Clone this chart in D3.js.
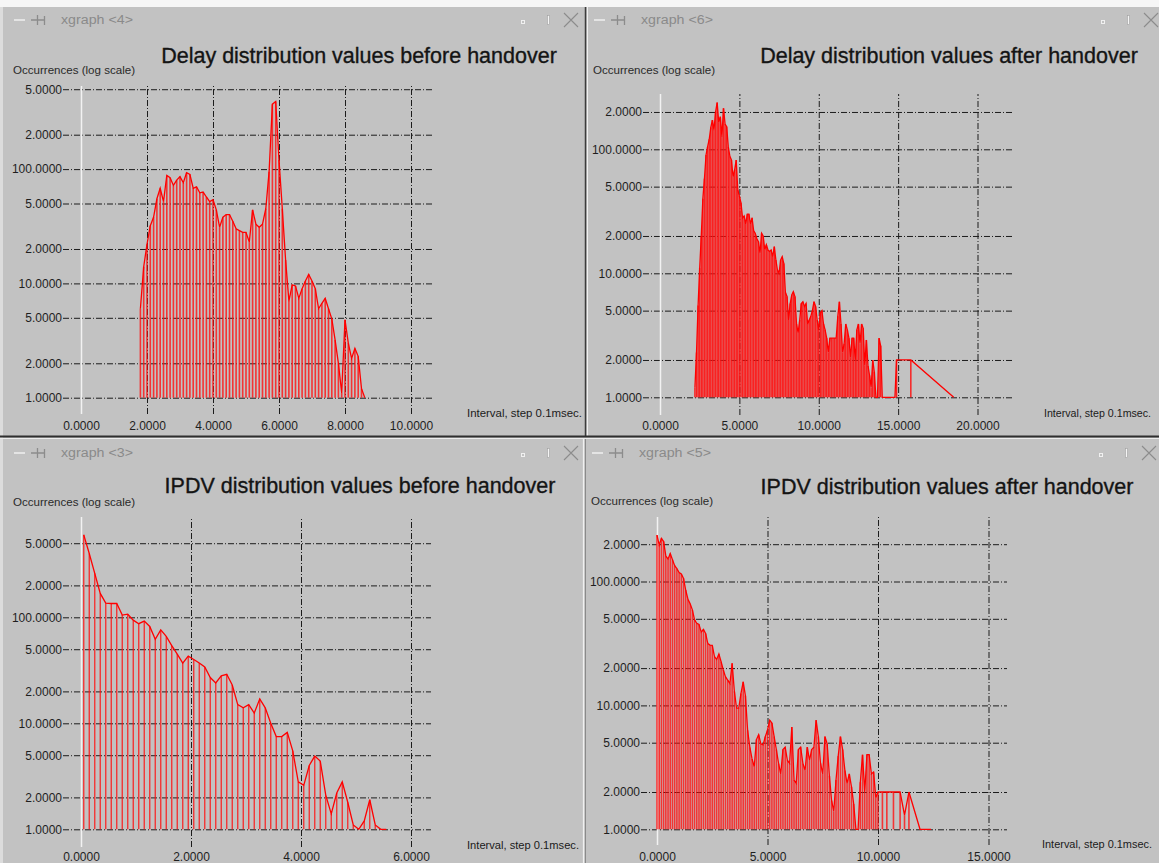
<!DOCTYPE html>
<html>
<head>
<meta charset="utf-8">
<script src="https://cdn.jsdelivr.net/npm/d3@7"></script>
<style>
  html, body { margin: 0; padding: 0; background: #c2c2c2; }
  svg { display: block; }
  text { font-family: "Liberation Sans", Arial, Helvetica, sans-serif; }
</style>
</head>
<body>
<svg id="chart" width="1159" height="863"></svg>
<script>
// ---- Histogram data: [interval, occurrences] ----
const delayBefore = [
  [1.8,6],[1.9,14],[2.0,22],[2.1,32],[2.2,38],[2.3,55],[2.4,68],[2.5,52],[2.6,88],[2.7,84],
  [2.8,72],[2.9,80],[3.0,86],[3.1,76],[3.2,93],[3.3,90],[3.4,68],[3.5,70],[3.6,62],[3.7,63],
  [3.8,57],[3.9,52],[4.0,54],[4.1,44],[4.2,31],[4.3,38],[4.4,40],[4.5,40],[4.6,35],[4.7,30],
  [4.8,29],[4.9,28],[5.0,28],[5.1,23],[5.2,44],[5.3,33],[5.4,31],[5.5,33],[5.6,45],[5.7,95],
  [5.8,370],[5.9,390],[6.0,120],[6.1,45],[6.2,16],[6.3,7],[6.4,9.7],[6.5,9.5],[6.6,7.4],[6.7,9],
  [6.8,10.5],[6.9,12],[7.0,10.5],[7.1,9],[7.2,6],[7.3,6.7],[7.4,7.4],[7.5,6],[7.6,4.9],[7.7,3.2],
  [7.8,2],[7.9,1.1],[8.0,4.8],[8.1,3],[8.2,2.2],[8.3,2.7],[8.4,2.3],[8.5,1.2],[8.6,1]
];
const delayAfter = [
  [2.2,1.2],[2.3,2.3],[2.4,5.5],[2.5,11],[2.6,20],[2.7,40],[2.8,58],[2.9,90],[3.0,105],[3.1,120],
  [3.2,150],[3.3,172],[3.4,143],[3.5,200],[3.6,238],[3.7,165],[3.8,183],[3.9,126],[4.0,214],[4.1,160],
  [4.2,152],[4.3,105],[4.4,88],[4.5,82],[4.6,60],[4.7,68],[4.8,82],[4.9,47],[5.0,42],[5.1,37],
  [5.2,28],[5.3,29],[5.4,25],[5.5,30],[5.6,30],[5.7,25],[5.8,28],[5.9,22],[6.0,21],[6.1,19],
  [6.2,18],[6.3,14.5],[6.4,21],[6.5,20],[6.6,15.5],[6.7,17],[6.8,15.4],[6.9,15],[7.0,15.4],[7.1,13.6],
  [7.2,16.4],[7.3,12.8],[7.4,10.6],[7.5,10],[7.6,12.8],[7.7,13.6],[7.8,12],[7.9,7],[8.0,6.5],[8.1,4.2],
  [8.2,5.7],[8.3,6.7],[8.4,7.1],[8.5,6.5],[8.6,3.9],[8.7,3.3],[8.8,4.2],[8.9,5.7],[9.0,5.9],[9.1,5.4],
  [9.2,5.7],[9.3,3.9],[9.4,4.2],[9.5,4.5],[9.6,5],[9.7,5.9],[9.8,5.4],[9.9,4.2],[10.0,3.5],[10.1,4.8],
  [10.2,5],[10.3,3.9],[10.4,3.5],[10.5,3],[10.6,2.3],[10.7,3],[10.8,3],[10.9,3],[11.0,3],[11.1,3],
  [11.2,4.5],[11.3,5.9],[11.4,3.9],[11.5,2.3],[11.6,2.7],[11.7,3.9],[11.8,3.5],[11.9,3],[12.0,2.1],[12.1,3],
  [12.2,3],[12.3,2],[12.4,3.5],[12.5,3.9],[12.6,2.7],[12.7,3.9],[12.8,3.6],[12.9,1.8],[13.0,2.9],[13.1,1.8],
  [13.2,1.5],[13.3,1.2],[13.4,2],[13.5,1.6],[13.6,1],[13.7,1],[13.8,3],[13.9,2.6],[14.0,1],[14.1,1],
  [14.8,1],[14.9,2],[15.8,2],[18.5,1]
];
const ipdvBefore = [
  [0.05,600],[0.15,400],[0.25,260],[0.35,168],[0.45,136],[0.55,135],[0.65,135],[0.75,105],[0.85,107],[0.95,94],
  [1.05,87],[1.15,92],[1.25,82],[1.35,62],[1.45,76],[1.55,66],[1.65,54],[1.75,45],[1.85,37],[1.95,43],
  [2.05,40],[2.15,37],[2.25,34],[2.35,27],[2.45,24],[2.55,28],[2.65,29],[2.75,23],[2.85,15],[2.95,14],
  [3.05,15],[3.15,12.5],[3.25,17],[3.35,14],[3.45,10],[3.55,7.5],[3.65,7.5],[3.75,8.2],[3.85,5.5],[3.95,2.8],
  [4.05,2.6],[4.15,4],[4.25,4.9],[4.35,4.4],[4.45,2.1],[4.55,1.4],[4.65,2.2],[4.75,2.8],[4.85,1.8],[4.95,1.1],
  [5.05,1],[5.15,1.2],[5.25,1.9],[5.35,1.1],[5.45,1],[5.55,1]
];
const ipdvAfter = [
  [0.0,237],[0.1,197],[0.2,223],[0.3,210],[0.4,160],[0.5,152],[0.6,168],[0.7,150],[0.8,134],[0.9,127],
  [1.0,118],[1.1,115],[1.2,106],[1.3,85],[1.4,72],[1.5,66],[1.6,59],[1.7,49],[1.8,46],[1.9,45],
  [2.0,39],[2.1,41],[2.2,38],[2.3,31.5],[2.4,30.7],[2.5,30.5],[2.6,24.7],[2.7,23.5],[2.8,26],[2.9,22.5],
  [3.0,19.3],[3.1,17],[3.2,16],[3.3,15],[3.4,21.9],[3.5,13],[3.6,9.5],[3.7,9.5],[3.8,12.5],[3.9,15.5],
  [4.0,12],[4.1,6.3],[4.2,4.6],[4.3,3.7],[4.4,3.2],[4.5,5.3],[4.6,5.8],[4.7,4.9],[4.8,4.8],[4.9,5.6],
  [5.0,6.3],[5.1,7.6],[5.2,7.2],[5.3,5.6],[5.4,4.4],[5.5,3.4],[5.6,2.8],[5.7,4.4],[5.8,4.6],[5.9,3.6],
  [6.0,3.4],[6.1,6.7],[6.2,2.5],[6.3,2.35],[6.4,4.4],[6.5,4.6],[6.6,3.4],[6.7,3.0],[6.8,4.6],[6.9,3.6],
  [7.0,4.4],[7.1,4.6],[7.2,7.6],[7.3,5.6],[7.4,3.4],[7.5,2.8],[7.6,5.6],[7.7,4.9],[7.8,2.7],[7.9,1.7],
  [8.0,1.4],[8.1,2.5],[8.2,3.9],[8.3,5.6],[8.4,4.4],[8.5,3.0],[8.6,2.35],[8.7,2.8],[8.8,2.2],[8.9,1.6],
  [9.0,1],[9.1,1],[9.2,2.4],[9.3,4],[9.4,2],[9.5,4],[9.6,4],[9.7,2.8],[9.8,2.9],[9.9,1.8],
  [10.0,2],[10.2,2],[10.4,2],[10.7,2],[11.0,2],[11.2,1.3],[11.4,2],[11.9,1],[12.4,1]
];

// ---- Tick values and their printed labels ----
const yTicksTall  = [1, 2, 5, 10, 20, 50, 100, 200, 500];
const yLabelsTall = ["1.0000","2.0000","5.0000","10.0000","2.0000","5.0000","100.0000","2.0000","5.0000"];
const yTicksShort  = [1, 2, 5, 10, 20, 50, 100, 200];
const yLabelsShort = ["1.0000","2.0000","5.0000","10.0000","2.0000","5.0000","100.0000","2.0000"];
const xTicksDelayBefore = [0, 2, 4, 6, 8, 10];
const xTicksDelayAfter  = [0, 5, 10, 15, 20];
const xTicksIpdvBefore  = [0, 2, 4, 6];
const xTicksIpdvAfter   = [0, 5, 10, 15];

const titles = [
  "Delay distribution values before handover",
  "Delay distribution values after handover",
  "IPDV distribution values before handover",
  "IPDV distribution values after handover"
];
const windowNames = ["xgraph <4>", "xgraph <6>", "xgraph <3>", "xgraph <5>"];
const yAxisTitle = "Occurrences (log scale)";
const xAxisTitle = "Interval, step 0.1msec.";

// ---- Window layouts ----
const panels = [
  { data: delayBefore, title: titles[0], win: windowNames[0],
    clip: [0, 7, 585, 429], ox: 0, barY: 20, titleX: 359, titleY: 63, occY: 74,
    xDomain: [0, 10], xRange: [81, 411], yRange: [397.7, 169.1],
    xTicks: xTicksDelayBefore, yTicks: yTicksTall, yLabels: yLabelsTall,
    hx: [63, 432], vy: [86, 414], xPad: 7, intX: 467, intY: 417, intLen: 115,
    barW: 1.6, barOp: 0.8 },
  { data: delayAfter, title: titles[1], win: windowNames[1],
    clip: [587, 7, 572, 429], ox: 580, barY: 20, titleX: 949, titleY: 63, occY: 74,
    xDomain: [0, 20], xRange: [660, 977.5], yRange: [397.3, 149.3],
    xTicks: xTicksDelayAfter, yTicks: yTicksShort, yLabels: yLabelsShort,
    hx: [643, 1012], vy: [94, 415], xPad: 6, intX: 1044, intY: 417, intLen: 107,
    barW: 1.5, barOp: 0.9 },
  { data: ipdvBefore, title: titles[2], win: windowNames[2],
    clip: [0, 439, 583, 424], ox: 0, barY: 453, titleX: 360, titleY: 493, occY: 506,
    xDomain: [0, 6], xRange: [81, 411], yRange: [829.3, 617.3],
    xTicks: xTicksIpdvBefore, yTicks: yTicksTall, yLabels: yLabelsTall,
    hx: [63, 431], vy: [517, 847], xPad: 5.5, intX: 467, intY: 849, intLen: 112,
    barW: 1.3, barOp: 0.85 },
  { data: ipdvAfter, title: titles[3], win: windowNames[3],
    clip: [585, 439, 574, 424], ox: 578, barY: 453, titleX: 947, titleY: 494, occY: 505,
    xDomain: [0, 15], xRange: [657, 988.5], yRange: [829.3, 581.5],
    xTicks: xTicksIpdvAfter, yTicks: yTicksShort, yLabels: yLabelsShort,
    hx: [641, 1007], vy: [517, 845], xPad: 7.5, intX: 1042, intY: 848, intLen: 110,
    barW: 1.6, barOp: 0.8 }
];

const svg = d3.select("#chart");
const defs = svg.append("defs");

// Screen background and window frames
svg.append("rect").attr("width", 1159).attr("height", 863).attr("fill", "#c2c2c2");
svg.append("rect").attr("x", 0).attr("y", 0).attr("width", 1159).attr("height", 7).attr("fill", "#f6f6f6");
svg.append("rect").attr("x", 0).attr("y", 7).attr("width", 3).attr("height", 856).attr("fill", "#dcdcdc");

panels.forEach((p, i) => {
  const id = "clip" + i;
  defs.append("clipPath").attr("id", id).append("rect")
    .attr("x", p.clip[0]).attr("y", p.clip[1]).attr("width", p.clip[2]).attr("height", p.clip[3]);
  const g = svg.append("g").attr("clip-path", `url(#${id})`);

  // --- title bar ---
  const bar = g.append("g").attr("stroke-linecap", "butt");
  bar.append("line").attr("x1", p.ox + 14).attr("x2", p.ox + 25).attr("y1", p.barY).attr("y2", p.barY)
    .attr("stroke", "#ececec").attr("stroke-width", 1.6);
  bar.append("path")
    .attr("d", `M${p.ox + 31},${p.barY} H${p.ox + 37} M${p.ox + 37.5},${p.barY - 5} V${p.barY + 5} M${p.ox + 37.5},${p.barY} H${p.ox + 44} M${p.ox + 44.5},${p.barY - 4} V${p.barY + 5}`)
    .attr("stroke", "#8c8c8c").attr("stroke-width", 1.3).attr("fill", "none");
  bar.append("text").attr("x", p.ox + 61).attr("y", p.barY + 4)
    .attr("font-size", 12).attr("fill", "#8a8a8a")
    .attr("textLength", 72).attr("lengthAdjust", "spacingAndGlyphs").text(p.win);
  bar.append("rect").attr("x", p.ox + 521.5).attr("y", p.barY + 0.5).attr("width", 3).attr("height", 3)
    .attr("fill", "none").attr("stroke", "#f0f0f0").attr("stroke-width", 1);
  bar.append("rect").attr("x", p.ox + 547.5).attr("y", p.barY - 4.5).attr("width", 2).attr("height", 9)
    .attr("fill", "#f4f4f4").attr("stroke", "#a0a0a0").attr("stroke-width", 0.6);
  bar.append("path")
    .attr("d", `M${p.ox + 564},${p.barY - 7} L${p.ox + 578},${p.barY + 7} M${p.ox + 578},${p.barY - 7} L${p.ox + 564},${p.barY + 7}`)
    .attr("stroke", "#8c8c8c").attr("stroke-width", 1.1).attr("fill", "none");

  // --- plot title and axis titles ---
  g.append("text").attr("x", p.titleX).attr("y", p.titleY).attr("text-anchor", "middle")
    .attr("font-size", 21.5).attr("fill", "#141414")
    .attr("stroke", "#141414").attr("stroke-width", 0.35).text(p.title);
  g.append("text").attr("x", p.ox + 13).attr("y", p.occY)
    .attr("font-size", 11).attr("fill", "#2a2a2a").attr("textLength", 122).attr("lengthAdjust", "spacingAndGlyphs")
    .text(yAxisTitle);
  g.append("text").attr("x", p.intX).attr("y", p.intY)
    .attr("font-size", 11.5).attr("fill", "#1a1a1a")
    .attr("textLength", p.intLen).attr("lengthAdjust", "spacingAndGlyphs").text(xAxisTitle);

  // --- scales ---
  const x = d3.scaleLinear().domain(p.xDomain).range(p.xRange);
  const y = d3.scaleLog().domain([1, 100]).range(p.yRange);

  // --- horizontal grid with y labels ---
  const yAxis = d3.axisLeft(y)
    .tickValues(p.yTicks)
    .tickFormat((d, k) => p.yLabels[k])
    .tickSize(-(p.hx[1] - p.hx[0]))
    .tickPadding(1);
  const gy = g.append("g").attr("transform", `translate(${p.hx[0]},0)`).call(yAxis);
  gy.select(".domain").remove();
  gy.selectAll(".tick line").attr("stroke", "#1c1c1c").attr("stroke-dasharray", "6,2,1,2");
  gy.selectAll(".tick text").attr("font-size", 12).attr("fill", "#1e1e1e")
    .attr("font-family", "'Liberation Sans', Arial, sans-serif");

  // --- vertical grid with x labels ---
  const xAxis = d3.axisBottom(x)
    .tickValues(p.xTicks)
    .tickFormat(d => d.toFixed(4))
    .tickSize(-(p.vy[1] - p.vy[0]))
    .tickPadding(p.xPad);
  const gx = g.append("g").attr("transform", `translate(0,${p.vy[1]})`).call(xAxis);
  gx.select(".domain").remove();
  gx.selectAll(".tick line")
    .attr("stroke", d => (d === 0 ? "#f2f2f2" : "#1c1c1c"))
    .attr("stroke-width", d => (d === 0 ? 1.5 : 1))
    .attr("stroke-dasharray", d => (d === 0 ? null : "6,2,1,2"));
  gx.selectAll(".tick text").attr("font-size", 12).attr("fill", "#1e1e1e")
    .attr("font-family", "'Liberation Sans', Arial, sans-serif");

  // --- histogram: bars from the 1.0 baseline plus the connecting line ---
  const marks = g.append("g");
  marks.selectAll("line.bar").data(p.data).join("line")
    .attr("class", "bar")
    .attr("x1", d => x(d[0])).attr("x2", d => x(d[0]))
    .attr("y1", y(1)).attr("y2", d => y(d[1]))
    .attr("stroke", "#ff1010").attr("stroke-width", p.barW).attr("stroke-opacity", p.barOp);
  marks.append("path").datum(p.data)
    .attr("d", d3.line().x(d => x(d[0])).y(d => y(d[1])))
    .attr("fill", "none").attr("stroke", "#ff0000").attr("stroke-width", 1.3);
});

// Window borders between the four views
const borders = svg.append("g");
borders.append("line").attr("x1", 585.5).attr("x2", 585.5).attr("y1", 7).attr("y2", 436)
  .attr("stroke", "#3c3c3c").attr("stroke-width", 1.5);
borders.append("line").attr("x1", 587.5).attr("x2", 587.5).attr("y1", 7).attr("y2", 436)
  .attr("stroke", "#f0f0f0").attr("stroke-width", 1);
borders.append("line").attr("x1", 0).attr("x2", 1159).attr("y1", 436.5).attr("y2", 436.5)
  .attr("stroke", "#2e2e2e").attr("stroke-width", 2);
borders.append("line").attr("x1", 0).attr("x2", 1159).attr("y1", 438.5).attr("y2", 438.5)
  .attr("stroke", "#ececec").attr("stroke-width", 1);
borders.append("line").attr("x1", 583.5).attr("x2", 583.5).attr("y1", 439).attr("y2", 863)
  .attr("stroke", "#f0f0f0").attr("stroke-width", 1.2);
borders.append("line").attr("x1", 585.5).attr("x2", 585.5).attr("y1", 439).attr("y2", 863)
  .attr("stroke", "#8a8a8a").attr("stroke-width", 1);
</script>
</body>
</html>
